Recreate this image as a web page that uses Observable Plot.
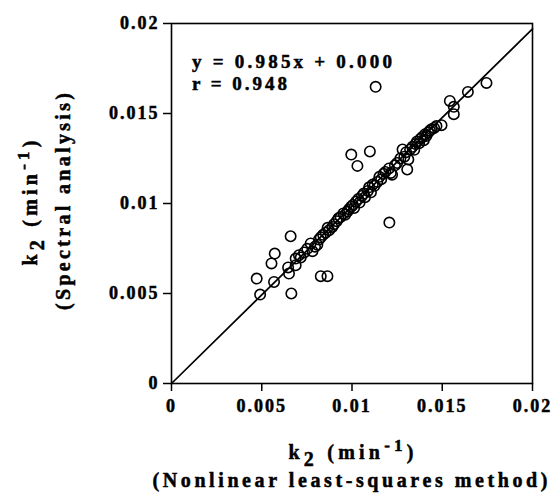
<!DOCTYPE html>
<html>
<head>
<meta charset="utf-8">
<script src="https://cdn.jsdelivr.net/npm/d3@7"></script>
<script src="https://cdn.jsdelivr.net/npm/@observablehq/plot@0.6"></script>
<style>
  html, body { margin: 0; padding: 0; background: #fff; }
  #chart svg { display: block; }
</style>
</head>
<body>
<div id="chart"></div>
<script>
// k2 from nonlinear least-squares method (x) vs spectral analysis (y)
const nonlinearK2 = [
  0.01131, 0.01745, 0.01642, 0.01542, 0.01564, 0.01564, 0.01496, 0.01099, 0.00996, 0.01030,
  0.01306, 0.01280, 0.01207, 0.00660, 0.00572, 0.00554, 0.00472, 0.00568, 0.00491, 0.00664,
  0.00827, 0.00864, 0.00651, 0.00646, 0.00688, 0.00706,
  0.00688, 0.00716, 0.00735, 0.00752, 0.00771, 0.00781, 0.00795, 0.00808, 0.00817, 0.00827,
  0.00840, 0.00854, 0.00865, 0.00873, 0.00891, 0.00900, 0.00915, 0.00925, 0.00937, 0.00952,
  0.00962, 0.00975, 0.00983, 0.00995, 0.01005, 0.01012, 0.01022, 0.01035, 0.01042, 0.01055,
  0.01065, 0.01072, 0.01088, 0.01095, 0.01105, 0.01115, 0.01125, 0.01140, 0.01152, 0.01162,
  0.01175, 0.01185, 0.01205, 0.01215, 0.01222, 0.01238, 0.01250, 0.01268, 0.01290, 0.01300,
  0.01312, 0.01322, 0.01335, 0.01345, 0.01352, 0.01360, 0.01372, 0.01380, 0.01390, 0.01398,
  0.01405, 0.01412, 0.01422, 0.01432, 0.01440, 0.01455, 0.01468
];
const spectralK2 = [
  0.01648, 0.01670, 0.01620, 0.01570, 0.01537, 0.01496, 0.01435, 0.01289, 0.01272, 0.01209,
  0.01189, 0.01300, 0.00894, 0.00818, 0.00722, 0.00667, 0.00583, 0.00564, 0.00494, 0.00500,
  0.00596, 0.00596, 0.00611, 0.00645, 0.00657, 0.00713,
  0.00694, 0.00700, 0.00728, 0.00748, 0.00778, 0.00735, 0.00760, 0.00771, 0.00800, 0.00812,
  0.00826, 0.00838, 0.00865, 0.00852, 0.00870, 0.00885, 0.00902, 0.00918, 0.00925, 0.00945,
  0.00938, 0.00955, 0.00968, 0.00982, 0.00992, 0.00975, 0.01010, 0.01025, 0.01005, 0.01042,
  0.01055, 0.01035, 0.01070, 0.01090, 0.01062, 0.01105, 0.01098, 0.01120, 0.01148, 0.01135,
  0.01165, 0.01175, 0.01195, 0.01170, 0.01160, 0.01212, 0.01225, 0.01250, 0.01260, 0.01285,
  0.01245, 0.01300, 0.01315, 0.01298, 0.01330, 0.01345, 0.01335, 0.01360, 0.01370, 0.01352,
  0.01385, 0.01375, 0.01395, 0.01405, 0.01412, 0.01420, 0.01430
];
const fitSlope = 0.985;
const fitIntercept = 0.000;
const axisDomain = [0, 0.02];
const tickValues = [0, 0.005, 0.01, 0.015, 0.02];
const tickLabels = ["0", "0.005", "0.01", "0.015", "0.02"];
const annotationLines = ["y = 0.985x + 0.000", "r = 0.948"];
const xTitleLines = ["k|2| (min|-1|)", "(Nonlinear least-squares method)"];
const yTitleLines = ["k|2| (min|-1|)", "(Spectral analysis)"];

const points = nonlinearK2.map((x, i) => ({x, y: spectralK2[i]}));
const fmt = d => tickLabels[tickValues.indexOf(d)];
const font = "'Liberation Serif', 'Times New Roman', serif";

const chart = Plot.plot({
  width: 552,
  height: 496,
  marginLeft: 171,
  marginRight: 20,
  marginTop: 23,
  marginBottom: 113,
  style: {fontFamily: font, fontSize: "18px", fontWeight: "bold", color: "#000", background: "#fff"},
  x: {domain: axisDomain},
  y: {domain: axisDomain},
  marks: [
    Plot.axisX({ticks: tickValues, tickFormat: fmt, tickSize: 8, tickPadding: 8, strokeWidth: 1.5, label: null}),
    Plot.axisY({ticks: tickValues, tickFormat: fmt, tickSize: 8, tickPadding: 4, strokeWidth: 1.5, label: null}),
    Plot.line(axisDomain, {x: d => d, y: d => fitSlope * d + fitIntercept, stroke: "#000", strokeWidth: 1.7}),
    Plot.dot(points, {x: "x", y: "y", r: 5.2, fill: "none", stroke: "#000", strokeWidth: 1.6}),
    Plot.frame({stroke: "#000", strokeWidth: 1.6})
  ]
});
document.getElementById("chart").appendChild(chart);

const svg = d3.select(chart);
// at this point the only text elements are the tick labels: make them heavier and spaced
svg.selectAll("text")
  .style("font-size", "18px").style("font-weight", "bold")
  .style("letter-spacing", "2px").attr("stroke", "#000").attr("stroke-width", 0.5);

function richText(g, spec, size) {
  const parts = spec.split("|");
  const t = g.append("text")
    .attr("font-family", font).attr("font-weight", "bold")
    .attr("font-size", size).attr("fill", "#000")
    .attr("stroke", "#000").attr("stroke-width", 0.5);
  const kinds = ["n", "sub", "n", "sup", "n"];
  let shift = 0;
  parts.forEach((p, i) => {
    const kind = kinds[i] || "n";
    const target = kind === "sub" ? 7 : kind === "sup" ? -8 : 0;
    const ts = t.append("tspan").text(p).attr("dy", target - shift);
    if (kind !== "n") ts.attr("font-size", kind === "sub" ? size : size - 3);
    shift = target;
  });
  return t;
}
function plainText(g, s, size) {
  return g.append("text").text(s)
    .attr("font-family", font).attr("font-weight", "bold").attr("font-size", size)
    .attr("fill", "#000").attr("stroke", "#000").attr("stroke-width", 0.5);
}

// x-axis titles
const gx = svg.append("g");
richText(gx, xTitleLines[0], 20).attr("x", 351).attr("y", 459).attr("text-anchor", "middle")
  .attr("textLength", 125).attr("lengthAdjust", "spacing");
plainText(gx, xTitleLines[1], 20)
  .attr("x", 350).attr("y", 487).attr("text-anchor", "middle")
  .attr("textLength", 395).attr("lengthAdjust", "spacing");

// y-axis titles
const gy1 = svg.append("g").attr("transform", "translate(37,203) rotate(-90)");
richText(gy1, yTitleLines[0], 20).attr("x", 0).attr("y", 0).attr("text-anchor", "middle")
  .attr("textLength", 125).attr("lengthAdjust", "spacing");
const gy2 = svg.append("g").attr("transform", "translate(70,201.5) rotate(-90)");
plainText(gy2, yTitleLines[1], 20).attr("text-anchor", "middle")
  .attr("textLength", 217).attr("lengthAdjust", "spacing");

// annotation
const ga = svg.append("g");
const annLengths = [200, 95];
annotationLines.forEach((line, i) => {
  plainText(ga, line, 19)
    .attr("text-anchor", "start")
    .attr("x", 192).attr("y", 68 + 22 * i)
    .attr("textLength", annLengths[i]).attr("lengthAdjust", "spacing");
});
</script>
</body>
</html>
